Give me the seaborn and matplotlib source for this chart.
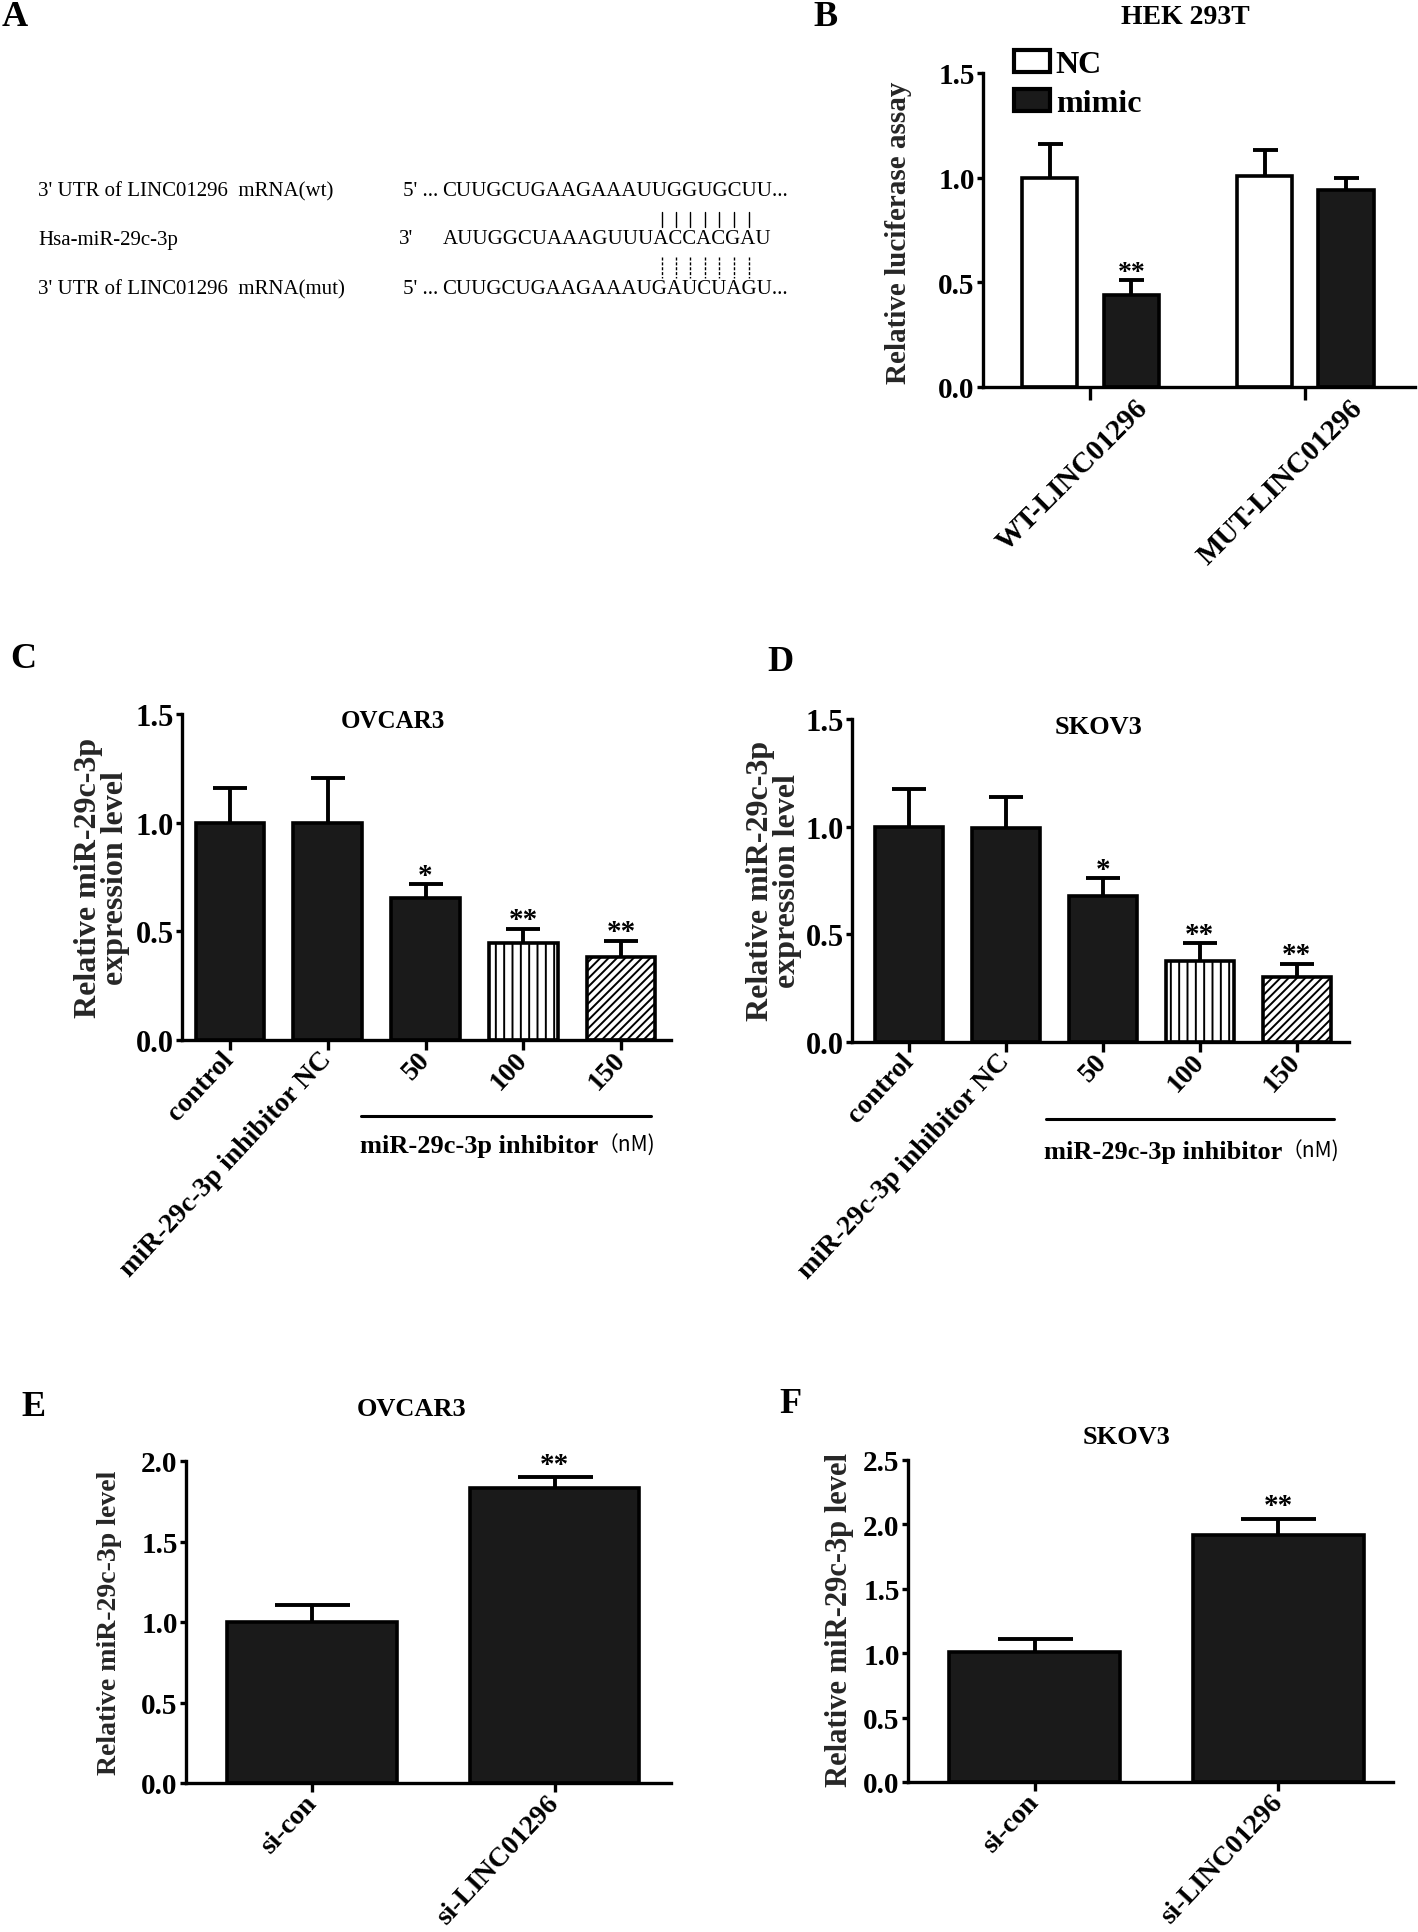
import numpy as np
import pandas as pd
import matplotlib
matplotlib.use("Agg")
import matplotlib.pyplot as plt
import matplotlib.transforms as mtransforms
from matplotlib.patches import Patch
from matplotlib.lines import Line2D
from matplotlib.font_manager import FontProperties
import seaborn as sns

# ---------------- data ----------------
# Panel A (sequence alignment)
a_names = ["3' UTR of LINC01296  mRNA(wt)", "Hsa-miR-29c-3p", "3' UTR of LINC01296  mRNA(mut)"]
a_ends = ["5' ...", "3'", "5' ..."]
a_seqs = ["CUUGCUGAAGAAAUUGGUGCUU...", "AUUGGCUAAAGUUUACCACGAU", "CUUGCUGAAGAAAUGAUCUAGU..."]
a_pair_start = 14
a_pair_len = 7

# Panel B
b_groups = ["WT-LINC01296", "MUT-LINC01296"]
b_hues = ["NC", "mimic"]
b_nc = [1.00, 1.01]
b_nc_err = [0.16, 0.12]
b_mimic = [0.44, 0.94]
b_mimic_err = [0.07, 0.06]
b_mimic_sig = ["**", ""]

# Panels C / D
cd_cats = ["control", "miR-29c-3p inhibitor NC", "50", "100", "150"]
c_vals = [1.00, 1.00, 0.655, 0.445, 0.38]
c_err = [0.16, 0.205, 0.062, 0.068, 0.077]
c_sig = ["", "", "*", "**", "**"]
d_vals = [1.00, 0.995, 0.68, 0.375, 0.30]
d_err = [0.175, 0.145, 0.08, 0.083, 0.064]
d_sig = ["", "", "*", "**", "**"]

# Panels E / F
ef_cats = ["si-con", "si-LINC01296"]
e_vals = [1.00, 1.835]
e_err = [0.107, 0.064]
e_sig = ["", "**"]
f_vals = [1.01, 1.915]
f_err = [0.10, 0.13]
f_sig = ["", "**"]

# ---------------- style ----------------
sns.set_theme(style="ticks")
plt.rcParams["font.family"] = ["Liberation Serif", "Noto Sans CJK SC", "DejaVu Serif"]
plt.rcParams["font.weight"] = "bold"
plt.rcParams["axes.edgecolor"] = "black"
plt.rcParams["xtick.color"] = "black"
plt.rcParams["ytick.color"] = "black"
plt.rcParams["text.color"] = "black"
plt.rcParams["hatch.linewidth"] = 1.4
plt.rcParams["hatch.color"] = "black"

BAR = "#1a1a1a"
EDGE = 2.6
SPINE = 2.4

W, H = 1418, 1933
fig = plt.figure(figsize=(W / 100, H / 100), dpi=100)


def rect(l, t, r, b):
    return [l / W, 1 - b / H, (r - l) / W, (b - t) / H]


def fx(x):
    return x / W


def fy(y):
    return 1 - y / H


def style_axes(ax, xlim, ylim, yticks, yfs, xtick_len):
    ax.set_xlim(*xlim)
    ax.set_ylim(*ylim)
    ax.set_yticks(yticks)
    ax.set_yticklabels([f"{t:.1f}" for t in yticks], fontsize=yfs, fontweight="bold")
    sns.despine(ax=ax)
    for s in ["left", "bottom"]:
        ax.spines[s].set_linewidth(SPINE)
    ax.tick_params(axis="y", length=4, width=SPINE, pad=2)
    ax.tick_params(axis="x", length=xtick_len, width=SPINE)
    ax.set_xlabel("")
    ax.set_ylabel("")


def add_err(ax, bars, errs, sigs, capsize, star_fs, star_off):
    xs = np.array([b.get_x() + b.get_width() / 2 for b in bars])
    ys = np.array([b.get_height() for b in bars])
    errs = np.asarray(errs)
    eb = ax.errorbar(xs, ys, yerr=[np.zeros_like(errs), errs], fmt="none",
                     ecolor="black", elinewidth=2.8, capsize=capsize, capthick=2.8)
    for cl in eb[1]:
        if np.allclose(cl.get_ydata(), ys):
            cl.set_visible(False)
    for x, y, e, s in zip(xs, ys, errs, sigs):
        if s:
            ax.annotate(s, xy=(x, y + e), xytext=(0, star_off), textcoords="offset points",
                        ha="center", va="baseline", fontsize=star_fs, fontweight="bold")


def single_bars(ax, cats, vals, colors, width):
    df = pd.DataFrame({"cat": cats, "val": vals})
    sns.barplot(data=df, x="cat", y="val", hue="cat", order=cats, hue_order=cats,
                palette=dict(zip(cats, colors)), saturation=1, width=width,
                edgecolor="black", linewidth=EDGE, errorbar=None, legend=False, ax=ax)
    return sorted(list(ax.patches), key=lambda p: p.get_x())


# ---------------- Panel A ----------------
fig.text(fx(15), fy(18), "A", fontsize=26, fontweight="bold", ha="center", va="center")
row_y = [192, 240, 290]
end_x = [403, 399, 403]
seq_x = [442, 443, 442]
fpA = FontProperties(family=["Liberation Serif"], size=15, weight="normal")
for name, end, seq, y, ex, sx in zip(a_names, a_ends, a_seqs, row_y, end_x, seq_x):
    fig.text(fx(38), fy(y), name, fontproperties=fpA, ha="left", va="center")
    fig.text(fx(ex), fy(y), end, fontproperties=fpA, ha="left", va="center")
    fig.text(fx(sx), fy(y), seq, fontproperties=fpA, ha="left", va="center")

renderer = fig.canvas.get_renderer()


def tw(s):
    w, h, d = renderer.get_text_width_height_descent(s, fpA, ismath=False)
    return w


mir = a_seqs[1]
for i in range(a_pair_start, a_pair_start + a_pair_len):
    cx = seq_x[1] + (tw(mir[:i]) + tw(mir[:i + 1])) / 2
    fig.add_artist(Line2D([fx(cx), fx(cx)], [fy(213), fy(228)], color="black", lw=1.0))
    fig.add_artist(Line2D([fx(cx), fx(cx)], [fy(258), fy(279)], color="black", lw=1.0,
                          linestyle=(0, (2.2, 1.3))))

# ---------------- Panel B ----------------
fig.text(fx(826), fy(18), "B", fontsize=26, fontweight="bold", ha="center", va="center")
axB = fig.add_axes(rect(983, 74, 1415, 388))
df_b = pd.DataFrame({"group": b_groups * 2,
                     "treat": [b_hues[0]] * 2 + [b_hues[1]] * 2,
                     "val": b_nc + b_mimic})
sns.barplot(data=df_b, x="group", y="val", hue="treat", order=b_groups, hue_order=b_hues,
            palette={b_hues[0]: "white", b_hues[1]: BAR}, saturation=1, width=0.76, gap=0.32,
            edgecolor="black", linewidth=EDGE, errorbar=None, legend=False, ax=axB)
pB = list(axB.patches)
nc_bars = sorted([p for p in pB if p.get_facecolor()[0] > 0.5], key=lambda p: p.get_x())
mi_bars = sorted([p for p in pB if p.get_facecolor()[0] <= 0.5], key=lambda p: p.get_x())
add_err(axB, nc_bars, b_nc_err, ["", ""], 9, 20, 1)
add_err(axB, mi_bars, b_mimic_err, b_mimic_sig, 9, 20, 1)
style_axes(axB, (-0.5, 1.51), (0, 1.5), [0.0, 0.5, 1.0, 1.5], 21, 9)
axB.set_xticks(range(len(b_groups)))
axB.set_xticklabels(b_groups, rotation=45, ha="right", va="center", rotation_mode="anchor",
                    fontsize=21, fontweight="bold")
axB.tick_params(axis="x", pad=3)
offB = mtransforms.ScaledTranslation(38 / 72, 0, fig.dpi_scale_trans)
for lab in axB.get_xticklabels():
    lab.set_transform(lab.get_transform() + offB)
axB.set_ylabel("Relative luciferase assay", fontsize=21, fontweight="bold", va="center", ha="center")
axB.yaxis.set_label_coords(fx(899), fy(233), transform=fig.transFigure)
fig.text(fx(1185), fy(17), "HEK 293T", fontsize=20, fontweight="bold", ha="center", va="center")
handles = [Patch(facecolor="white", edgecolor="black", linewidth=3),
           Patch(facecolor=BAR, edgecolor="black", linewidth=3)]
axB.legend(handles, b_hues, loc="upper left", bbox_to_anchor=(fx(1014), fy(51)),
           bbox_transform=fig.transFigure, frameon=False, prop={"size": 23, "weight": "bold"},
           handlelength=1.13, handleheight=0.7, labelspacing=0.3, handletextpad=0.18,
           borderpad=0, borderaxespad=0)


# ---------------- Panels C / D ----------------
def cd_panel(letter, letter_xy, rect_px, xlim, vals, errs, sigs, title, title_xy,
             title_fs, ylab_xy, bracket, brk_text_xy):
    fig.text(fx(letter_xy[0]), fy(letter_xy[1]), letter, fontsize=26, fontweight="bold",
             ha="center", va="center")
    ax = fig.add_axes(rect(*rect_px))
    colors = [BAR, BAR, BAR, "white", "white"]
    bars = single_bars(ax, cd_cats, vals, colors, 0.70)
    for b, h in zip(bars, ["", "", "", "||", "////"]):
        b.set_hatch(h)
    add_err(ax, bars, errs, sigs, 12, 21, 1)
    style_axes(ax, xlim, (0, 1.5), [0.0, 0.5, 1.0, 1.5], 22, 7)
    ax.set_xticks(range(len(cd_cats)))
    ax.set_xticklabels(cd_cats, rotation=47, ha="right", va="center", rotation_mode="anchor",
                       fontsize=20, fontweight="bold")
    ax.tick_params(axis="x", pad=4)
    ax.set_ylabel("Relative miR-29c-3p\nexpression level", fontsize=23, fontweight="bold",
                  va="center", ha="center", linespacing=0.95)
    ax.yaxis.set_label_coords(fx(ylab_xy[0]), fy(ylab_xy[1]), transform=fig.transFigure)
    fig.text(fx(title_xy[0]), fy(title_xy[1]), title, fontsize=title_fs, fontweight="bold",
             ha="center", va="center")
    x0, x1, yb = bracket
    fig.add_artist(Line2D([fx(x0), fx(x1)], [fy(yb), fy(yb)], color="black", lw=2.2))
    sx, sy = brk_text_xy
    fig.text(fx(sx), fy(sy), "miR-29c-3p inhibitor", fontsize=19, fontweight="bold",
             ha="right", va="center")
    fig.text(fx(sx), fy(sy), "（nM)", fontsize=15, fontweight="normal",
             family=["Noto Sans CJK SC", "DejaVu Sans"], ha="left", va="center")
    return ax


cd_panel("C", (23, 660), (182, 715, 671, 1041), (-0.49, 4.51), c_vals, c_err, c_sig,
         "OVCAR3", (393, 721), 18, (102, 878), (361, 651, 1117), (598, 1146))
cd_panel("D", (780, 663), (852, 720, 1349, 1043), (-0.59, 4.54), d_vals, d_err, d_sig,
         "SKOV3", (1099, 728), 19, (774, 881), (1046, 1334, 1120), (1282, 1152))


# ---------------- Panels E / F ----------------
def ef_panel(letter, letter_xy, rect_px, xlim, vals, errs, sigs, ylim, yticks, title,
             title_xy, ylab_xy, ylab_fs):
    fig.text(fx(letter_xy[0]), fy(letter_xy[1]), letter, fontsize=26, fontweight="bold",
             ha="center", va="center")
    ax = fig.add_axes(rect(*rect_px))
    bars = single_bars(ax, ef_cats, vals, [BAR, BAR], 0.70)
    add_err(ax, bars, errs, sigs, 27, 21, 4)
    style_axes(ax, xlim, ylim, yticks, 21, 6.5)
    ax.set_xticks(range(len(ef_cats)))
    ax.set_xticklabels(ef_cats, rotation=47, ha="right", va="center", rotation_mode="anchor",
                       fontsize=20, fontweight="bold")
    ax.tick_params(axis="x", pad=5)
    ax.set_ylabel("Relative miR-29c-3p level", fontsize=ylab_fs, fontweight="bold",
                  va="center", ha="center")
    ax.yaxis.set_label_coords(fx(ylab_xy[0]), fy(ylab_xy[1]), transform=fig.transFigure)
    fig.text(fx(title_xy[0]), fy(title_xy[1]), title, fontsize=19, fontweight="bold",
             ha="center", va="center")
    return ax


ef_panel("E", (34, 1408), (186, 1462, 671, 1784), (-0.52, 1.48), e_vals, e_err, e_sig,
         (0, 2.0), [0.0, 0.5, 1.0, 1.5, 2.0], "OVCAR3", (412, 1410), (110, 1623), 20)
ef_panel("F", (790, 1405), (908, 1461, 1393, 1783), (-0.52, 1.47), f_vals, f_err, f_sig,
         (0, 2.5), [0.0, 0.5, 1.0, 1.5, 2.0, 2.5], "SKOV3", (1126, 1437), (839, 1620), 22)

fig.savefig("out.png", dpi=100)
